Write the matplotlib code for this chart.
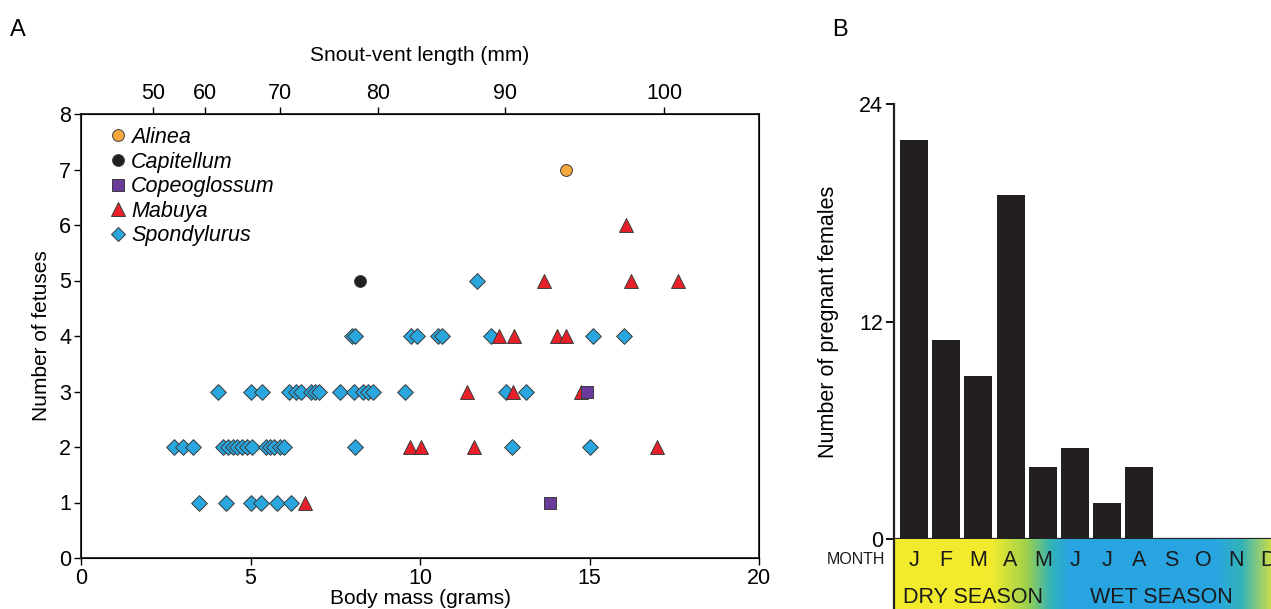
import numpy as np
import matplotlib
matplotlib.use("Agg")
import matplotlib.pyplot as plt
from matplotlib.colors import LinearSegmentedColormap
from matplotlib.lines import Line2D

plt.rcParams['font.family'] = ['Liberation Sans', 'DejaVu Sans']

# ---- Panel A: litter size vs body mass ----
spond_mass = [3.48, 4.28, 5.01, 5.31, 5.78, 6.19,
              2.74, 3.01, 3.30, 4.19, 4.34, 4.48, 4.60, 4.75, 4.90, 5.04, 5.46, 5.58,
              5.69, 5.87, 5.99, 8.08, 12.71, 15.01,
              4.04, 5.01, 5.34, 6.14, 6.34, 6.49, 6.78, 6.90, 7.02, 7.64, 8.05, 8.32,
              8.47, 8.61, 9.56, 12.54, 13.13,
              7.99, 8.08, 9.73, 9.91, 10.53, 10.65, 12.09, 15.10, 16.02,
              11.68]
spond_fetus = [1] * 6 + [2] * 18 + [3] * 17 + [4] * 9 + [5]

mabuya_mass = [6.61, 9.71, 10.03, 11.59, 16.99, 11.39, 12.74, 14.75,
               12.33, 12.77, 14.04, 14.31, 13.66, 16.22, 17.61, 16.08]
mabuya_fetus = [1, 2, 2, 2, 2, 3, 3, 3, 4, 4, 4, 4, 5, 5, 5, 6]

copeo_mass = [13.83, 14.93]
copeo_fetus = [1, 3]

capit_mass = [8.23]
capit_fetus = [5]

alinea_mass = [14.31]
alinea_fetus = [7]

# snout-vent length scale (mm) and the body mass it corresponds to
svl_labels = [50, 60, 70, 80, 90, 100]
svl_mass = [2.12, 3.66, 5.87, 8.76, 12.51, 17.20]

# ---- Panel B: pregnant females per month ----
months = ['J', 'F', 'M', 'A', 'M', 'J', 'J', 'A', 'S', 'O', 'N', 'D']
pregnant = [22, 11, 9, 19, 4, 5, 2, 4, 0, 0, 0, 0]

W, H = 1271, 609
fig = plt.figure(figsize=(W / 100, H / 100), dpi=100)

def fx(px):
    return px / W

def fy(py):
    return 1 - py / H

edge = '#3a3a3a'
ax = fig.add_axes([fx(81), fy(558), fx(759) - fx(81), fy(114) - fy(558)])
ax.scatter(spond_mass, spond_fetus, marker='D', s=8 ** 2, c='#2aa6de',
           edgecolors=edge, linewidths=0.7, zorder=3)
ax.scatter(mabuya_mass, mabuya_fetus, marker='^', s=10 ** 2, c='#e8202a',
           edgecolors=edge, linewidths=0.7, zorder=4)
ax.scatter(copeo_mass, copeo_fetus, marker='s', s=8 ** 2, c='#6b3b9c',
           edgecolors=edge, linewidths=0.7, zorder=5)
ax.scatter(capit_mass, capit_fetus, marker='o', s=8.5 ** 2, c='#231f20',
           edgecolors=edge, linewidths=0.7, zorder=5)
ax.scatter(alinea_mass, alinea_fetus, marker='o', s=8.5 ** 2, c='#f7a83c',
           edgecolors=edge, linewidths=0.7, zorder=5)

ax.set_xlim(0, 20)
ax.set_ylim(0, 8)
ax.set_xticks([0, 5, 10, 15, 20])
ax.set_yticks(range(0, 9))
ax.tick_params(labelsize=15.5, length=5, width=1, direction='out', pad=2)
for sp in ax.spines.values():
    sp.set_linewidth(1.3)
    sp.set_color('#222222')
ax.set_xlabel('Body mass (grams)', fontsize=15, labelpad=0)
ax.set_ylabel('Number of fetuses', fontsize=15, labelpad=6)

top = ax.twiny()
top.set_xlim(ax.get_xlim())
top.set_xticks(svl_mass)
top.set_xticklabels([str(v) for v in svl_labels])
top.tick_params(labelsize=15.5, length=5, width=1, direction='out', pad=2)
top.set_xlabel('Snout-vent length (mm)', fontsize=15, labelpad=16)

handles = [
    Line2D([], [], ls='none', marker='o', ms=8.5, mfc='#f7a83c', mec=edge, mew=0.7),
    Line2D([], [], ls='none', marker='o', ms=8.5, mfc='#231f20', mec=edge, mew=0.7),
    Line2D([], [], ls='none', marker='s', ms=8, mfc='#6b3b9c', mec=edge, mew=0.7),
    Line2D([], [], ls='none', marker='^', ms=10, mfc='#e8202a', mec=edge, mew=0.7),
    Line2D([], [], ls='none', marker='D', ms=7, mfc='#2aa6de', mec=edge, mew=0.7),
]
names = ['Alinea', 'Capitellum', 'Copeoglossum', 'Mabuya', 'Spondylurus']
leg = ax.legend(handles, names, loc='upper left', bbox_to_anchor=(0.02, 1.005),
                frameon=False, fontsize=15.5, handlelength=0.8, handletextpad=0.2,
                labelspacing=0.17, borderaxespad=0.3)
for t in leg.get_texts():
    t.set_fontstyle('italic')

fig.text(fx(10), fy(30), 'A', fontsize=17, va='center', ha='left')
fig.text(fx(832), fy(30), 'B', fontsize=17, va='center', ha='left')

# ---- Panel B ----
pitch = 32.2
x0 = 914
xl = (894 - x0) / pitch
xr = (W - x0) / pitch
axb = fig.add_axes([fx(894), fy(539), 1 - fx(894), fy(104) - fy(539)])
xs = np.arange(len(months))
axb.bar(xs, pregnant, width=0.87, color='#231f20', edgecolor='none', zorder=2)
axb.set_xlim(xl, xr)
axb.set_ylim(0, 24)
axb.set_yticks([0, 12, 24])
axb.set_xticks([])
axb.tick_params(axis='y', labelsize=15.5, length=6, width=1.3, pad=2)
for s in ('top', 'right'):
    axb.spines[s].set_visible(False)
axb.spines['left'].set_linewidth(1.6)
axb.spines['bottom'].set_linewidth(1.6)
axb.spines['left'].set_color('#222222')
axb.spines['bottom'].set_color('#222222')
axb.set_ylabel('Number of pregnant females', fontsize=15.5, labelpad=14)

# season colour band under the bars
band = fig.add_axes([fx(894), 0, 1 - fx(894), fy(539)])
band.set_xlim(xl, xr)
band.set_ylim(0, 1)
yellow = (0.95, 0.92, 0.18)
green = (0.62, 0.82, 0.30)
teal = (0.20, 0.70, 0.72)
blue = (0.16, 0.65, 0.88)
endc = (0.78, 0.86, 0.30)

def pos(v):
    return (v - xl) / (xr - xl)

stops = [(0.0, yellow), (pos(2.4), yellow), (pos(3.5), green), (pos(4.25), teal),
         (pos(4.8), blue), (pos(9.4), blue), (pos(10.2), teal), (1.0, endc)]
cmap = LinearSegmentedColormap.from_list('season', stops)
grad = np.linspace(0, 1, 512)[None, :]
band.imshow(grad, cmap=cmap, aspect='auto', extent=[xl, xr, 0, 1], origin='lower')
band.set_xticks([])
band.set_yticks([])
for s in ('top', 'right', 'bottom'):
    band.spines[s].set_visible(False)
band.spines['left'].set_linewidth(1.6)
band.spines['left'].set_color('#222222')

for i, m in enumerate(months):
    band.text(i, 0.70, m, fontsize=15.5, ha='center', va='center', color='#1a1a1a')
band.text((885 - x0) / pitch, 0.70, 'MONTH', fontsize=11.5, ha='right', va='center',
          color='#1a1a1a', clip_on=False)
band.text((903 - x0) / pitch, 0.17, 'DRY SEASON', fontsize=15.5, ha='left', va='center',
          color='#1a1a1a')
band.text((1090 - x0) / pitch, 0.17, 'WET SEASON', fontsize=15.5, ha='left', va='center',
          color='#1a1a1a')

fig.savefig('out.png', dpi=100)
